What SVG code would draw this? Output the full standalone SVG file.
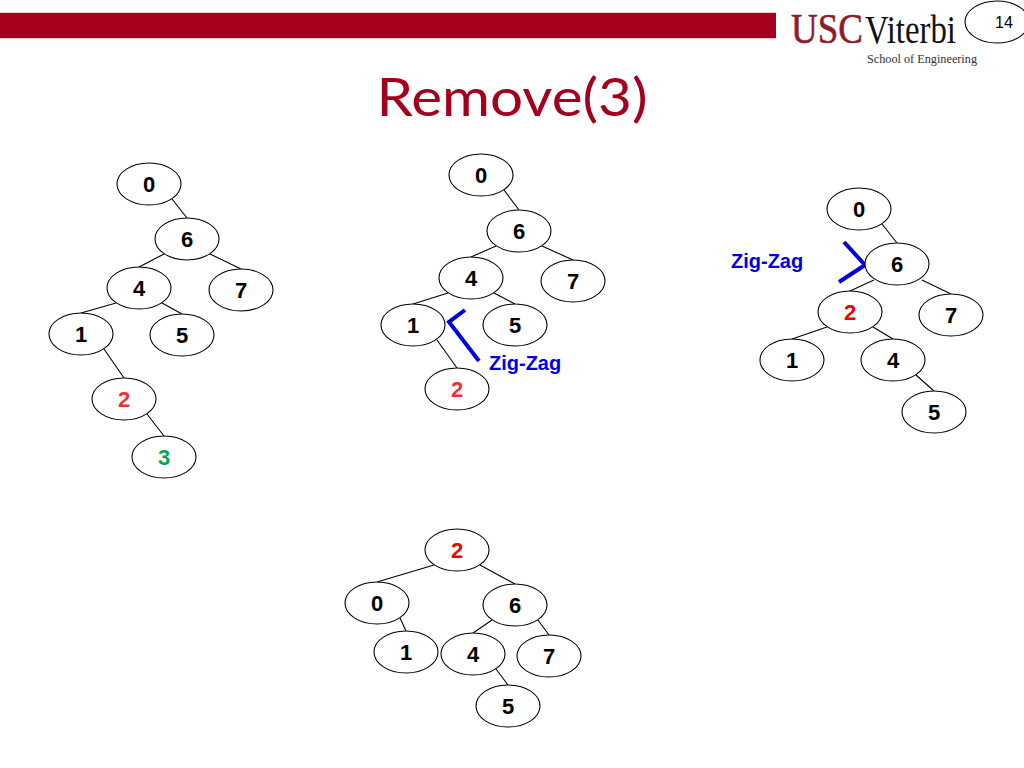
<svg xmlns="http://www.w3.org/2000/svg" width="1024" height="768" viewBox="0 0 1024 768">
<style>
.n{fill:#fff;stroke:#000;stroke-width:1.1}
.t{font:bold 22px "Liberation Sans",Arial,sans-serif;text-anchor:middle;fill:#000}
.e{stroke:#000;stroke-width:1.1;fill:none}
.z{stroke:#0000dc;stroke-width:4;fill:none}
.zt{font:bold 20px "Liberation Sans",Arial,sans-serif;fill:#0000dc}
</style>
<defs>
<ellipse id="o" class="n" rx="32" ry="21"/>
</defs>
<rect width="1024" height="768" fill="#fff"/>
<rect id="banner-edge" x="0" y="12" width="776" height="27" fill="#f4c4cc"/>
<rect id="banner" x="0" y="13" width="776" height="25" fill="#a5001e"/>
<g id="logo">
<text x="791" y="43" font-family="Liberation Serif,serif" font-size="42" fill="#8c1d28" stroke="#8c1d28" stroke-width="0.6" textLength="72" lengthAdjust="spacingAndGlyphs">USC</text>
<text x="865" y="43" font-family="Liberation Serif,serif" font-size="39" fill="#111" textLength="91" lengthAdjust="spacingAndGlyphs">Viterbi</text>
<text x="867" y="63" font-family="Liberation Serif,serif" font-size="12.5" fill="#333" textLength="110" lengthAdjust="spacingAndGlyphs">School of Engineering</text>
</g>
<g id="slide-number"><ellipse cx="997" cy="22" rx="32" ry="21" fill="#fff" stroke="#000" stroke-width="1.1"/><text x="1004" y="28" font-family="Liberation Sans,sans-serif" font-size="16" text-anchor="middle">14</text></g>
<text id="title" x="512" y="116" font-family="Lato,sans-serif" font-size="53" fill="#a3001e" text-anchor="middle" textLength="271" lengthAdjust="spacingAndGlyphs">Remove(3)</text>
<g id="connectors">
<path class="e" d="M172 199L187 218M164 254L139 267M210 254L241 269M116 303L81 313M162 303L182 314M104 349L124 378M147 414L164 436"/>
<path class="e" d="M504 190L519 210M496 246L471 257M542 246L573 260M448 293L413 304M494 293L515 304M437 340L457 368"/>
<path class="e" d="M882 224L897 243M874 280L850 291M922 280L951 294M827 327L792 339M873 327L893 339M916 375L934 391"/>
<path class="e" d="M434 565L377 582M480 565L515 584M400 618L406 631M492 620L473 633M538 620L549 635M496 669L508 685"/>
<path class="z" d="M465 310L449 322L479 361"/>
<path class="z" d="M844 242L865 265L839 282"/>
</g>
<g id="tree1">
<g id="a0"><use href="#o" x="149" y="184"/><text class="t" x="149" y="192">0</text></g>
<g id="a6"><use href="#o" x="187" y="239"/><text class="t" x="187" y="247">6</text></g>
<g id="a4"><use href="#o" x="139" y="288"/><text class="t" x="139" y="296">4</text></g>
<g id="a7"><use href="#o" x="241" y="290"/><text class="t" x="241" y="298">7</text></g>
<g id="a1"><use href="#o" x="81" y="334"/><text class="t" x="81" y="342">1</text></g>
<g id="a5"><use href="#o" x="182" y="335"/><text class="t" x="182" y="343">5</text></g>
<g id="a2"><use href="#o" x="124" y="399"/><text class="t" x="124" y="407" style="fill:#f03030">2</text></g>
<g id="a3"><use href="#o" x="164" y="457"/><text class="t" x="164" y="465" style="fill:#00a651">3</text></g>
</g>
<g id="tree2">
<g id="b0"><use href="#o" x="481" y="175"/><text class="t" x="481" y="183">0</text></g>
<g id="b6"><use href="#o" x="519" y="231"/><text class="t" x="519" y="239">6</text></g>
<g id="b4"><use href="#o" x="471" y="278"/><text class="t" x="471" y="286">4</text></g>
<g id="b7"><use href="#o" x="573" y="281"/><text class="t" x="573" y="289">7</text></g>
<g id="b1"><use href="#o" x="413" y="325"/><text class="t" x="413" y="333">1</text></g>
<g id="b5"><use href="#o" x="515" y="325"/><text class="t" x="515" y="333">5</text></g>
<g id="b2"><use href="#o" x="457" y="389"/><text class="t" x="457" y="397" style="fill:#f03030">2</text></g>
<text class="zt" x="489" y="370">Zig-Zag</text>
</g>
<g id="tree3">
<g id="c0"><use href="#o" x="859" y="209"/><text class="t" x="859" y="217">0</text></g>
<g id="c6"><use href="#o" x="897" y="264"/><text class="t" x="897" y="272">6</text></g>
<g id="c2"><use href="#o" x="850" y="312"/><text class="t" x="850" y="320" style="fill:#f00000">2</text></g>
<g id="c7"><use href="#o" x="951" y="315"/><text class="t" x="951" y="323">7</text></g>
<g id="c1"><use href="#o" x="792" y="360"/><text class="t" x="792" y="368">1</text></g>
<g id="c4"><use href="#o" x="893" y="360"/><text class="t" x="893" y="368">4</text></g>
<g id="c5"><use href="#o" x="934" y="412"/><text class="t" x="934" y="420">5</text></g>
<text class="zt" x="731" y="268">Zig-Zag</text>
</g>
<g id="tree4">
<g id="d2"><use href="#o" x="457" y="550"/><text class="t" x="457" y="558" style="fill:#f00000">2</text></g>
<g id="d0"><use href="#o" x="377" y="603"/><text class="t" x="377" y="611">0</text></g>
<g id="d6"><use href="#o" x="515" y="605"/><text class="t" x="515" y="613">6</text></g>
<g id="d1"><use href="#o" x="406" y="652"/><text class="t" x="406" y="660">1</text></g>
<g id="d4"><use href="#o" x="473" y="654"/><text class="t" x="473" y="662">4</text></g>
<g id="d7"><use href="#o" x="549" y="656"/><text class="t" x="549" y="664">7</text></g>
<g id="d5"><use href="#o" x="508" y="706"/><text class="t" x="508" y="714">5</text></g>
</g>
</svg>
